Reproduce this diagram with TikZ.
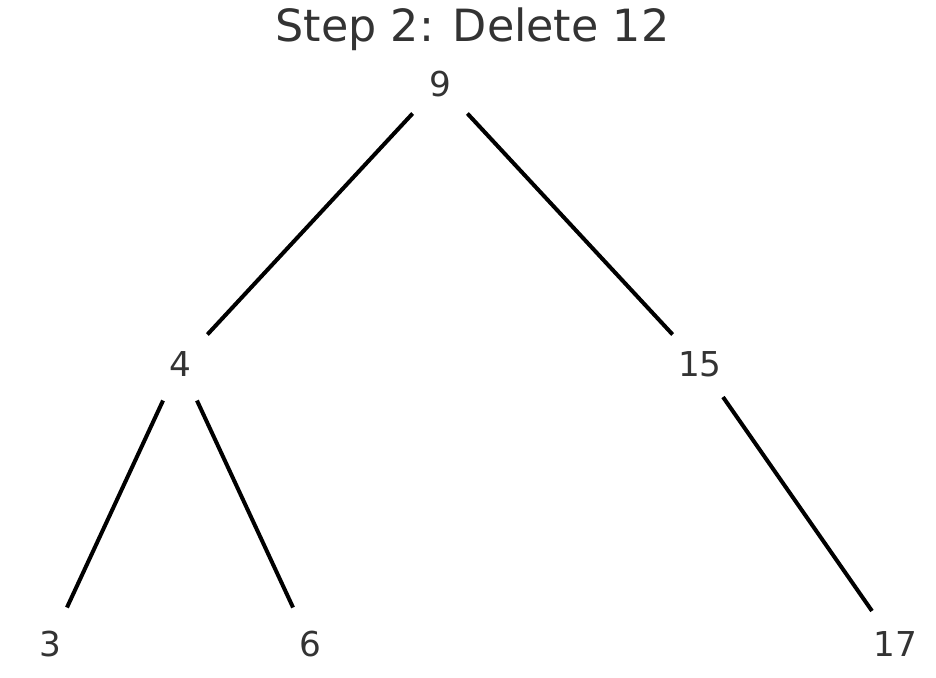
\documentclass[tikz,border=0pt]{standalone}
\usepackage{fontspec}
\setmainfont{DejaVu Sans}
\definecolor{txt}{RGB}{51,51,51}
\begin{document}
\begin{tikzpicture}[x=0.75pt,y=-0.75pt,
  tnode/.style={circle,minimum size=80*0.75pt,inner sep=0pt,text=txt,font=\fontsize{25.7}{30}\selectfont},
  edge/.style={line width=3pt,black}]
\useasboundingbox (0,0) rectangle (936,678);
\node[text=txt,font=\fontsize{33.3}{40}\selectfont,anchor=base] (title) at (472.5,41) {Step 2: Delete 12};
\node[tnode] (n9) at (440,84) {9};
\node[tnode] (n4) at (180,364) {4};
\node[tnode] (n15) at (700,364) {15};
\node[tnode] (n3) at (50,644) {3};
\node[tnode] (n6) at (310,644) {6};
\node[tnode] (n17) at (895,644) {17};
\draw[edge] (n9) -- (n4);
\draw[edge] (n9) -- (n15);
\draw[edge] (n4) -- (n3);
\draw[edge] (n4) -- (n6);
\draw[edge] (n15) -- (n17);
\end{tikzpicture}
\end{document}
